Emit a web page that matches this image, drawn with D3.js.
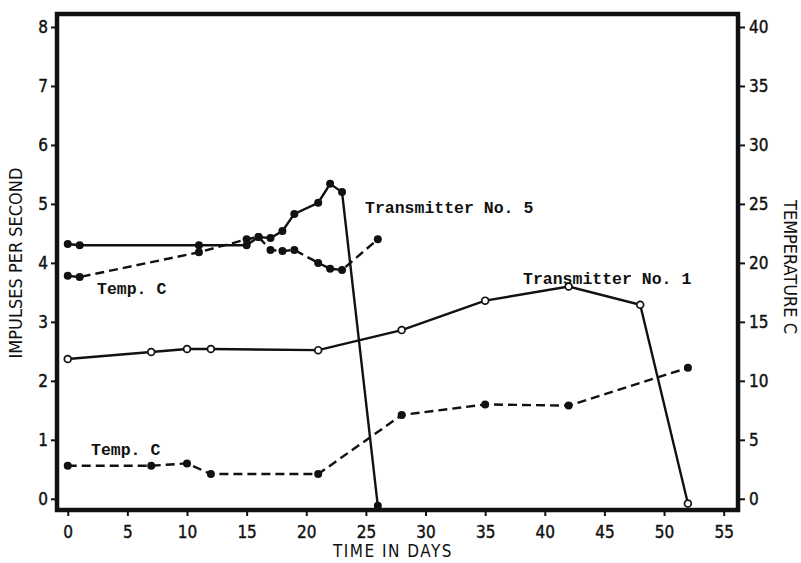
<!DOCTYPE html>
<html>
<head>
<meta charset="utf-8">
<script src="https://cdn.jsdelivr.net/npm/d3@7"></script>
<style>
  body { margin: 0; background: #fff; }
  .tick text { font-family: "DejaVu Sans Condensed", "DejaVu Sans", sans-serif; font-size: 17px; fill: #111; stroke: #111; stroke-width: 0.4px; }
  .tick line { stroke: #111; stroke-width: 2; }
  .title { font-family: "DejaVu Sans Condensed", "DejaVu Sans", sans-serif; font-size: 18px; fill: #111; }
  .note { font-family: "Liberation Mono", "DejaVu Sans Mono", monospace; font-size: 16.5px; font-weight: bold; fill: #111; }
</style>
</head>
<body>
<svg width="801" height="563"></svg>
<script>
// days and readings
// Transmitter No. 5 (impulses per second)
var t5Days  = [0, 1, 11, 15, 16, 17, 18, 19, 21, 22, 23, 26];
var t5Rate  = [4.32, 4.3, 4.3, 4.3, 4.44, 4.42, 4.54, 4.83, 5.02, 5.34, 5.2, -0.12];
// temperature during Transmitter No. 5 (deg C)
var t5TDays = [0, 1, 11, 15, 16, 17, 18, 19, 21, 22, 23, 26];
var t5Temp  = [18.9, 18.8, 20.9, 22.0, 22.2, 21.1, 21.0, 21.1, 20.0, 19.5, 19.4, 22.0];
// Transmitter No. 1 (impulses per second)
var t1Days  = [0, 7, 10, 12, 21, 28, 35, 42, 48, 52];
var t1Rate  = [2.37, 2.49, 2.54, 2.54, 2.52, 2.86, 3.36, 3.6, 3.29, -0.08];
// temperature during Transmitter No. 1 (deg C)
var t1TDays = [0, 7, 10, 12, 21, 28, 35, 42, 52];
var t1Temp  = [2.8, 2.8, 3.0, 2.1, 2.1, 7.1, 8.0, 7.9, 11.1];

var xTicks = [0, 5, 10, 15, 20, 25, 30, 35, 40, 45, 50, 55];
var yTicks = [0, 1, 2, 3, 4, 5, 6, 7, 8];
var tTicks = [0, 5, 10, 15, 20, 25, 30, 35, 40];

var svg = d3.select("svg");

// plot frame
var frame = { left: 57, right: 738, top: 14, bottom: 510 };

var xScale = d3.scaleLinear().domain([-0.9, 56.2]).range([frame.left, frame.right]);
var yScale = d3.scaleLinear().domain([-0.19, 8.22]).range([frame.bottom, frame.top]);
// right axis: 5 degrees per impulse unit
var tScale = d3.scaleLinear().domain([-0.95, 41.1]).range([frame.bottom, frame.top]);

// axes
var xAxis = svg.append("g")
  .attr("transform", "translate(0," + frame.bottom + ")")
  .call(d3.axisBottom(xScale).tickValues(xTicks).tickSize(6).tickPadding(10));
var yAxis = svg.append("g")
  .attr("transform", "translate(" + frame.left + ",0)")
  .call(d3.axisLeft(yScale).tickValues(yTicks).tickSize(6).tickPadding(3));
var tAxis = svg.append("g")
  .attr("transform", "translate(" + frame.right + ",0)")
  .call(d3.axisRight(tScale).tickValues(tTicks).tickSize(7).tickPadding(4));
[xAxis, yAxis, tAxis].forEach(function(a){ a.select(".domain").remove(); });

svg.append("rect")
  .attr("x", frame.left).attr("y", frame.top)
  .attr("width", frame.right - frame.left)
  .attr("height", frame.bottom - frame.top)
  .attr("fill", "none").attr("stroke", "#111").attr("stroke-width", 4.5);

// axis titles
svg.append("text").attr("class", "title")
  .attr("transform", "translate(22,263) rotate(-90)")
  .style("text-anchor", "middle")
  .text("IMPULSES PER SECOND");
svg.append("text").attr("class", "title")
  .attr("transform", "translate(784,267) rotate(90)")
  .style("text-anchor", "middle")
  .text("TEMPERATURE C");
svg.append("text").attr("class", "title")
  .attr("x", 393).attr("y", 557)
  .style("text-anchor", "middle")
  .style("font-size", "17px")
  .style("letter-spacing", "1.5px")
  .text("TIME IN DAYS");

/** draws one series as a line plus markers **/
function draw_series(days, vals, scale, dashed, open){
  var pts = days.map(function(d, i){ return [xScale(d), scale(vals[i])]; });
  svg.append("path")
    .attr("d", d3.line()(pts))
    .attr("fill", "none")
    .attr("stroke", "#111")
    .attr("stroke-width", 2.4)
    .attr("stroke-dasharray", dashed ? "9,5" : null);
  svg.selectAll(null)
    .data(pts)
    .enter()
    .append("circle")
      .attr("cx", function(p){ return p[0]; })
      .attr("cy", function(p){ return p[1]; })
      .attr("r", open ? 3.4 : 4)
      .attr("fill", open ? "#fff" : "#111")
      .attr("stroke", "#111")
      .attr("stroke-width", open ? 1.7 : 0);
}

draw_series(t1TDays, t1Temp, tScale, true, false);
draw_series(t5TDays, t5Temp, tScale, true, false);
draw_series(t1Days, t1Rate, yScale, false, true);
draw_series(t5Days, t5Rate, yScale, false, false);

// labels
svg.append("text").attr("class", "note").attr("x", 365).attr("y", 213).text("Transmitter No. 5");
svg.append("text").attr("class", "note").attr("x", 523).attr("y", 284).text("Transmitter No. 1");
svg.append("text").attr("class", "note").attr("x", 97).attr("y", 294).text("Temp. C");
svg.append("text").attr("class", "note").attr("x", 91).attr("y", 455).text("Temp. C");
</script>
</body>
</html>
